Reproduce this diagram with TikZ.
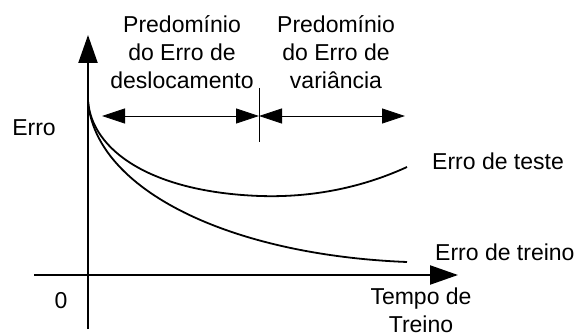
\documentclass[tikz,border=0pt]{standalone}
\usepackage{fontspec}
\setmainfont{Liberation Sans}
\usetikzlibrary{arrows.meta}
\begin{document}
\begin{tikzpicture}[x=1pt,y=-1pt,
  lbl/.style={font=\fontsize{23}{28}\selectfont, inner sep=0pt, align=center},
  axis/.style={line width=2.2pt, -{Triangle[length=28pt,width=19pt]}},
  curve/.style={line width=1.8pt},
  span/.style={line width=0.8pt, {Triangle[length=23pt,width=15pt]}-{Triangle[length=23pt,width=15pt]}}]
\useasboundingbox (0,0) rectangle (575,336);
% axes
\coordinate (ybot) at (88,329);
\coordinate (ytop) at (88,35);
\coordinate (xl) at (34,275);
\coordinate (xr) at (458,275);
\draw[axis] (ybot) -- (ytop);
\draw[axis] (xl) -- (xr);
% curves
\coordinate (c0) at (88,101);
\coordinate (tmin) at (260,196);
\coordinate (tend) at (407,167);
\coordinate (rend) at (407,262);
\draw[curve] (c0) .. controls (92,150) and (150,192) .. (tmin) .. controls (320,198) and (370,184) .. (tend);
\draw[curve] (c0) .. controls (95,190) and (230,255) .. (rend);
% spans
\coordinate (s1) at (102,116);
\coordinate (sm) at (259,116);
\coordinate (s2) at (405,116);
\coordinate (tk1) at (259,88);
\coordinate (tk2) at (259,142);
\draw[line width=0.8pt] (tk1) -- (tk2);
\draw[span] (s1) -- (sm);
\draw[span] (sm) -- (s2);
% labels
\node[lbl] (desl) at (182,52) {Predomínio\\do Erro de\\deslocamento};
\node[lbl] (var) at (336,52) {Predomínio\\do Erro de\\variância};
\node[lbl] (erro) at (34,128) {Erro};
\node[lbl] (zero) at (61,301) {0};
\node[lbl, anchor=west] (teste) at (432,161) {Erro de teste};
\node[lbl, anchor=west] (treino) at (435,252) {Erro de treino};
\node[lbl] (tempo) at (421,310) {Tempo de\\Treino};
\end{tikzpicture}
\end{document}
